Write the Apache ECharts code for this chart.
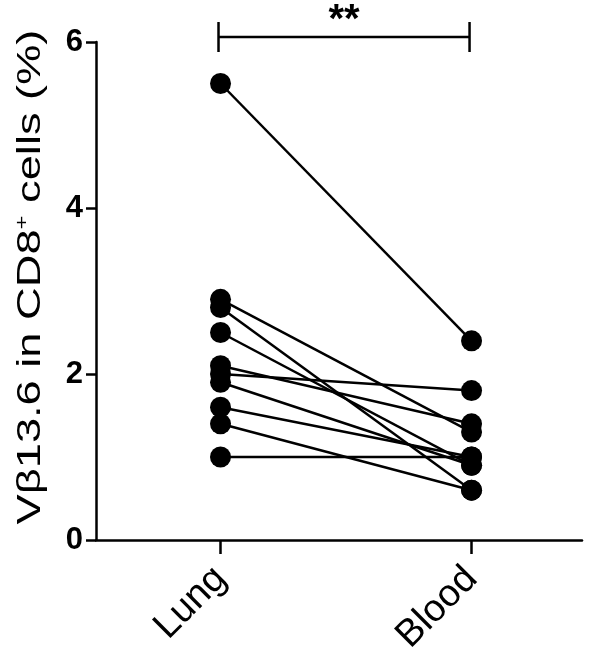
<!DOCTYPE html>
<html lang="en">
<head>
    <meta charset="UTF-8">
    <title>Vb13.6 Lung vs Blood</title>
    <style type="text/css">
        html,body{margin:0;padding:0;background:#fff;}
        #main{width:600px;height:668px;}
    </style>
</head>
<body>
<div id="main"></div>
<script src="https://cdn.jsdelivr.net/npm/echarts@6.0.0/dist/echarts.min.js"></script>
<script>
    // paired samples
    var tissues = ['Lung', 'Blood'];
    var lungVals  = [5.5, 2.9, 2.8, 2.5, 2.1, 2.0, 1.9, 1.6, 1.4, 1.0];
    var bloodVals = [2.4, 1.3, 0.6, 0.9, 1.4, 1.8, 0.9, 1.0, 0.6, 1.0];
    var yTicks = [0, 2, 4, 6];
    var sigText = '**';

    var font = 'Arial, "Liberation Sans", sans-serif';
    var myChart = echarts.init(document.getElementById('main'));

    var series = [];
    for (var i = 0; i < lungVals.length; i++) {
        series.push({
            type: 'line',
            data: [[0, lungVals[i]], [1, bloodVals[i]]],
            symbol: 'circle',
            symbolSize: 21,
            itemStyle: {color: '#000'},
            lineStyle: {color: '#000', width: 2.5},
            clip: false,
            silent: true,
            z: 2
        });
    }

    // significance bracket above the two groups
    series.push({
        type: 'custom',
        clip: false,
        silent: true,
        data: [[0, 1, 6.06]],
        renderItem: function (params, api) {
            var p0 = api.coord([api.value(0), api.value(2)]);
            var p1 = api.coord([api.value(1), api.value(2)]);
            var h = 15;
            var st = {stroke: '#000', lineWidth: 2.5};
            return {
                type: 'group',
                children: [
                    {type: 'line', shape: {x1: p0[0] - 2, y1: p0[1], x2: p1[0] - 2, y2: p1[1]}, style: st},
                    {type: 'line', shape: {x1: p0[0] - 2, y1: p0[1] - h, x2: p0[0] - 2, y2: p0[1] + h}, style: st},
                    {type: 'line', shape: {x1: p1[0] - 2, y1: p1[1] - h, x2: p1[0] - 2, y2: p1[1] + h}, style: st},
                    {type: 'text', x: (p0[0] + p1[0]) / 2 - 2, y: p0[1] + 4,
                        style: {text: sigText, fill: '#000', font: 'bold 40px ' + font,
                            align: 'center', verticalAlign: 'bottom'}}
                ]
            };
        }
    });

    var option = {
        animation: false,
        grid: {left: 96, right: 18, top: 42, bottom: 128},
        // y axis title, stretched along its length like the original
        graphic: [{
            type: 'text',
            x: 31,
            y: 277,
            rotation: Math.PI / 2,
            scaleX: 1.33,
            style: {
                text: '{a|V\u03b213.6 in CD8}{s|+}{a| cells (%)}',
                align: 'center',
                verticalAlign: 'middle',
                rich: {
                    a: {fontFamily: font, fontSize: 34, fill: '#000'},
                    s: {fontFamily: font, fontSize: 18, fill: '#000', padding: [0, 0, 16, 0]}
                }
            }
        }],
        xAxis: {
            type: 'value',
            min: -0.496,
            max: 1.44,
            splitLine: {show: false},
            axisLine: {show: true, onZero: false, lineStyle: {color: '#000', width: 2.5}},
            axisTick: {show: true, inside: false, length: 14, customValues: [0, 1],
                lineStyle: {color: '#000', width: 2.5}},
            axisLabel: {
                customValues: [0, 1],
                rotate: 45,
                margin: 33,
                color: '#000',
                fontFamily: font,
                fontSize: 38,
                formatter: function (v) { return tissues[Math.round(v)]; }
            }
        },
        yAxis: {
            type: 'value',
            min: 0,
            max: 6,
            interval: 2,
            splitLine: {show: false},
            axisLine: {show: true, onZero: false, lineStyle: {color: '#000', width: 2.5}},
            axisTick: {show: true, length: 10, lineStyle: {color: '#000', width: 2.5}},
            axisLabel: {
                margin: 13,
                color: '#000',
                fontFamily: font,
                fontWeight: 'bold',
                fontSize: 31,
                formatter: function (v) { return yTicks.indexOf(v) >= 0 ? String(v) : ''; }
            }
        },
        series: series
    };

    myChart.setOption(option);
</script>
</body>
</html>
